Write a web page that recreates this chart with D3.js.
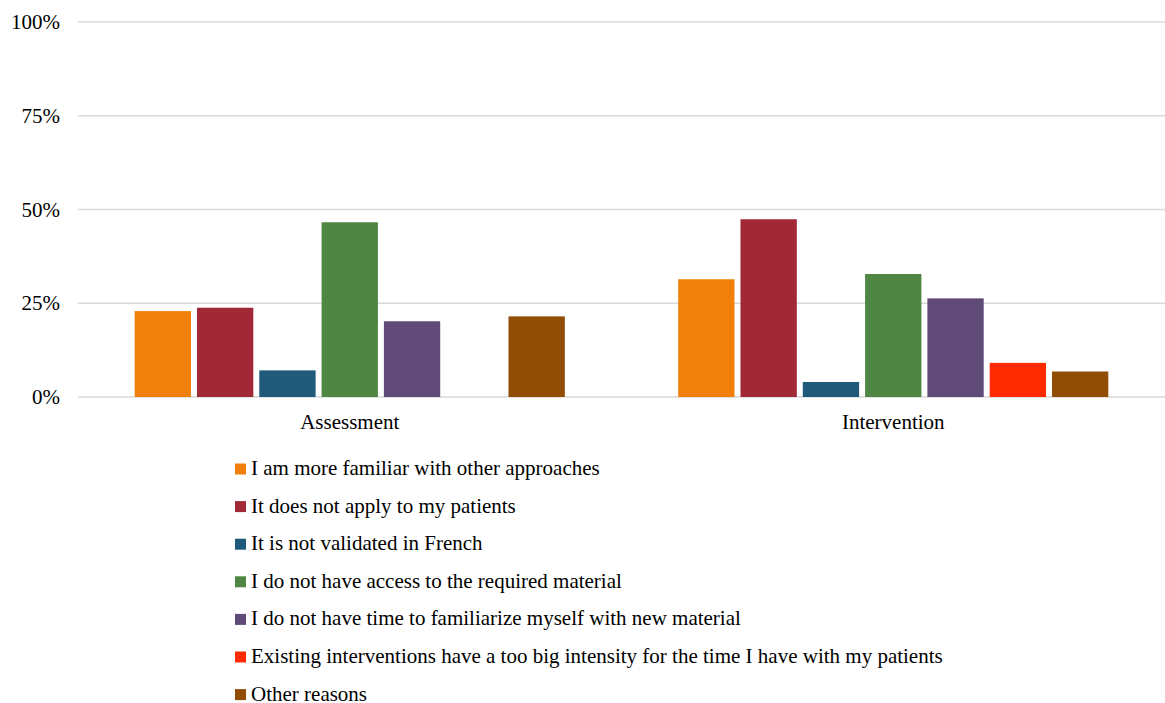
<!DOCTYPE html>
<html>
<head>
<meta charset="utf-8">
<script src="https://cdn.jsdelivr.net/npm/d3@7"></script>
</head>
<body style="margin:0;background:#fff">
<div id="chart"></div>
<script>
// ── Data ──
const categories = ["Assessment", "Intervention"];
const series = [
  "I am more familiar with other approaches",
  "It does not apply to my patients",
  "It is not validated in French",
  "I do not have access to the required material",
  "I do not have time to familiarize myself with new material",
  "Existing interventions have a too big intensity for the time I have with my patients",
  "Other reasons",
];
const colors = ["#f0800a", "#a12837", "#1f5a7a", "#4f8643", "#604a78", "#ff2a00", "#914c06"];
// percentages per series; null = no bar
const assessmentValues   = [22.9, 23.8, 7.1, 46.6, 20.2, null, 21.5];
const interventionValues = [31.4, 47.4, 4.0, 32.8, 26.3, 9.1, 6.8];
const yTicks = [0, 25, 50, 75, 100];

const W = 1165, H = 703;
const margin = { top: 22, right: 0, bottom: 306, left: 78 };
const FONT = '"Liberation Serif"';

const svg = d3.select("#chart").append("svg")
  .attr("width", W).attr("height", H)
  .style("display", "block");

const y = d3.scaleLinear().domain([0, 100]).range([H - margin.bottom, margin.top]);
const x0 = d3.scaleBand().domain(categories).range([margin.left, W - margin.right]).padding(0);
const x1 = d3.scaleBand().domain(series).range([0, x0.bandwidth()])
  .paddingInner(0.096).paddingOuter(0.91);

// ── Gridlines ──
svg.append("g").selectAll("line")
  .data(yTicks)
  .join("line")
  .attr("x1", margin.left).attr("x2", W - margin.right)
  .attr("y1", d => y(d)).attr("y2", d => y(d))
  .attr("stroke", "#d9d9d9").attr("stroke-width", 1.5);

// ── Y axis labels ──
const yAxis = svg.append("g")
  .attr("transform", `translate(${margin.left},0)`)
  .call(d3.axisLeft(y).tickValues(yTicks).tickFormat(d => d + "%").tickSize(0).tickPadding(18));
yAxis.select(".domain").remove();
yAxis.selectAll("text")
  .style("font-family", FONT)
  .style("font-size", "21px").attr("fill", "#000");

// ── Bars ──
const rows = categories.map((c, i) => ({
  cat: c,
  vals: series.map((s, j) => ({ s, j, v: (i === 0 ? assessmentValues : interventionValues)[j] }))
}));

svg.append("g").selectAll("g")
  .data(rows)
  .join("g")
  .attr("transform", d => `translate(${x0(d.cat)},0)`)
  .selectAll("rect")
  .data(d => d.vals.filter(v => v.v != null))
  .join("rect")
  .attr("x", d => x1(d.s))
  .attr("width", x1.bandwidth())
  .attr("y", d => y(d.v))
  .attr("height", d => y(0) - y(d.v))
  .attr("fill", d => colors[d.j]);

// ── X labels ──
svg.append("g").selectAll("text")
  .data(categories)
  .join("text")
  .attr("x", d => x0(d) + x0.bandwidth() / 2)
  .attr("y", 429)
  .attr("text-anchor", "middle")
  .style("font-family", FONT)
  .style("font-size", "21px").attr("fill", "#000")
  .text(d => d);

// ── Legend ──
const legend = svg.append("g").attr("transform", "translate(235,0)");
const item = legend.selectAll("g")
  .data(series)
  .join("g")
  .attr("transform", (d, i) => `translate(0,${468 + i * 37.6})`);
item.append("rect")
  .attr("x", 0).attr("y", -4.5).attr("width", 11).attr("height", 11)
  .attr("fill", (d, i) => colors[i]);
item.append("text")
  .attr("x", 16).attr("y", 7)
  .style("font-family", FONT)
  .style("font-size", "21px").attr("fill", "#000")
  .text(d => d);
</script>
</body>
</html>
